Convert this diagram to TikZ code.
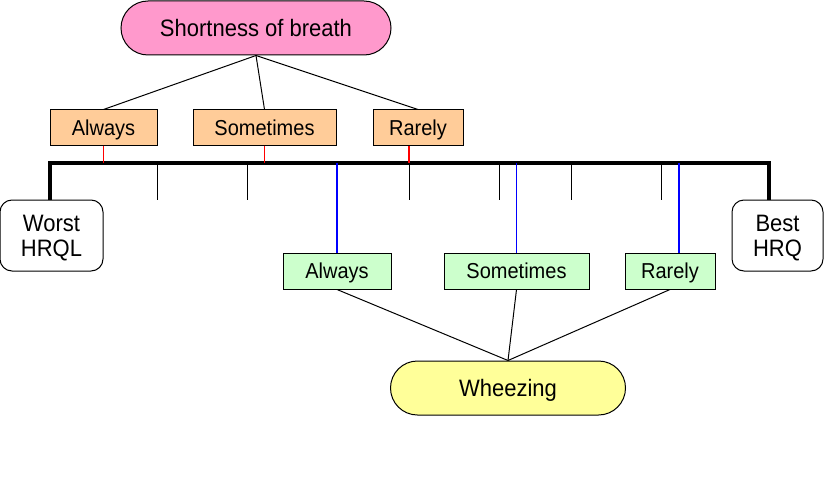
\documentclass[tikz,border=0pt]{standalone}
\usepackage{fontspec}
\setmainfont{Liberation Sans}
\definecolor{sobpink}{HTML}{FF99CC}
\definecolor{boxorange}{HTML}{FFCC99}
\definecolor{boxgreen}{HTML}{CCFFCC}
\definecolor{wheezyellow}{HTML}{FFFF99}
\definecolor{linkblue}{RGB}{0,0,255}
\definecolor{linkred}{RGB}{255,0,0}
\newcommand{\vst}[1]{\scalebox{1}[1.08]{#1}}
\begin{document}
\begin{tikzpicture}[x=1pt,y=-1pt,
  lbl/.style={font=\fontsize{22}{25}\selectfont,text depth=0pt},
  stadium/.style={lbl,draw=black,line width=1pt,rounded corners=27pt,minimum height=54pt,inner sep=0pt},
  smallbox/.style={draw=black,line width=1pt,inner sep=0pt,text depth=0pt,font=\fontsize{20}{24}\selectfont},
  topbox/.style={smallbox,fill=boxorange,minimum height=35pt},
  botbox/.style={smallbox,fill=boxgreen,minimum height=36pt},
  endbox/.style={draw=black,line width=1pt,rounded corners=12pt,minimum height=71pt,inner sep=0pt,align=center,text depth=0pt,font=\fontsize{22}{25}\selectfont},
  conn/.style={line width=1pt,black},
  redconn/.style={line width=1.3pt,draw=linkred},
  blueconn/.style={line width=1.3pt,draw=linkblue},
  axisline/.style={line width=3.5pt,black},
  tickmark/.style={line width=1pt,black}
]
\useasboundingbox (0,0) rectangle (834,476);

% main nodes
\node[stadium,fill=sobpink,minimum width=270pt] (sob) at (256,28) {\vst{Shortness of breath}};
\node[stadium,fill=wheezyellow,minimum width=235pt] (wh) at (508,388) {\vst{Wheezing}};

\node[topbox,minimum width=107pt] (ta) at (103.5,127.5) {\vst{Always}};
\node[topbox,minimum width=143pt] (ts) at (264.5,127.5) {\vst{Sometimes}};
\node[topbox,minimum width=90pt]  (tr) at (418,127.5) {\vst{Rarely}};

\node[botbox,minimum width=108pt] (ba) at (337,271) {\vst{Always}};
\node[botbox,minimum width=145pt] (bs) at (516.5,271) {\vst{Sometimes}};
\node[botbox,minimum width=90pt]  (br) at (670,271) {\vst{Rarely}};

\node[endbox,minimum width=103pt] (worst) at (51.5,235.5) {\vst{Worst}\\\vst{HRQL}};
\node[endbox,minimum width=91pt]  (best)  at (777.5,235.5) {\vst{Best}\\\vst{HRQ}};

% axis coordinates
\coordinate (axL) at (50,163);
\coordinate (axR) at (769,163);
\coordinate (tRr) at (409,163);
\coordinate (bRr) at (679,163);

% ticks
\foreach \x in {157,247,409,499,571,661}
  \draw[tickmark] (\x,163) -- (\x,200);

% connectors from Shortness of breath
\draw[conn] (sob.south) -- (ta.north);
\draw[conn] (sob.south) -- (ts.north);
\draw[conn] (sob.south) -- (tr.north);

% connectors to Wheezing
\draw[conn] (ba.south) -- (wh.north);
\draw[conn] (bs.south) -- (wh.north);
\draw[conn] (br.south) -- (wh.north);

% axis
\draw[axisline,line join=miter] (axL |- worst.north) -- (axL) -- (axR) -- (axR |- best.north);

% red drops
\draw[redconn] (ta.south) -- (ta.south |- axL);
\draw[redconn] (ts.south) -- (ts.south |- axL);
\draw[redconn] (tr.south -| tRr) -- (tRr);

% blue drops
\draw[blueconn] (ba.north |- axL) -- (ba.north);
\draw[blueconn] (bs.north |- axL) -- (bs.north);
\draw[blueconn] (bRr) -- (br.north -| bRr);
\end{tikzpicture}
\end{document}
